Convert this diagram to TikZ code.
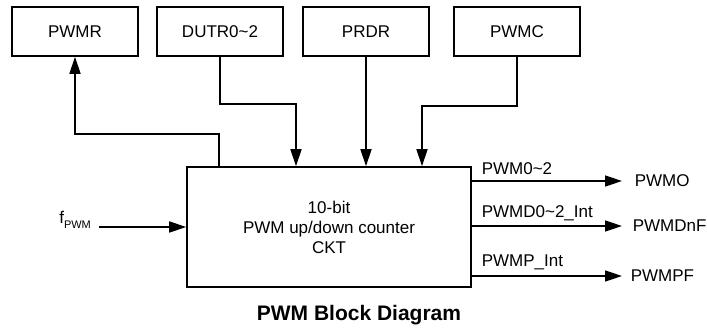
\documentclass[tikz,border=0pt]{standalone}
\usepackage{fontspec}
\setmainfont{Liberation Sans}
\usetikzlibrary{arrows.meta}

\begin{document}
\begin{tikzpicture}[x=1pt,y=-1pt,line width=1.6pt,
  reg/.style={draw,minimum width=126pt,minimum height=49pt,inner sep=0pt,font=\fontsize{17}{20}\selectfont},
  sig/.style={inner sep=0pt,font=\fontsize{17}{20}\selectfont},
  arr/.style={-{Triangle[length=17pt,width=11pt]}}]
\useasboundingbox (0,0) rectangle (707,329);
% registers on top
\node[reg] (pwmr) at (75,31.5) {PWMR};
\node[reg] (dutr) at (220,31.5) {DUTR0\textasciitilde2};
\node[reg] (prdr) at (366,31.5) {PRDR};
\node[reg] (pwmc) at (517,31.5) {PWMC};
% counter block
\node[draw,minimum width=284pt,minimum height=120pt,inner sep=0pt,align=center,font=\fontsize{17}{20}\selectfont] (cnt) at (329,227) {10-bit\\PWM up/down counter\\CKT};
\draw[arr] ([xshift=33pt]cnt.north west) -- ++(0,-32) -| (pwmr.south);
\draw[arr] (dutr.south) -- ++(0,47) -| ([xshift=-33pt]cnt.north);
\draw[arr] (prdr.south) -- (prdr.south |- cnt.north);
\draw[arr] (pwmc.south) -- ++(0,49) -| ([xshift=93pt]cnt.north);
% clock input
\node[sig,anchor=base west] (fpwm) at (58.5,223) {f\raisebox{-5pt}{\fontsize{11}{12}\selectfont PWM}};
\coordinate (fin) at (99,227);
\draw[arr] (fin) -- (fin -| cnt.west);
% outputs
\node[sig,anchor=west] (pwmo) at (634,181) {PWMO};
\node[sig,anchor=west] (pwmdnf) at (632,226) {PWMDnF};
\node[sig,anchor=west] (pwmpf) at (630,276) {PWMPF};
\draw[arr,shorten >=12pt] (cnt.east |- 0,181) -- (pwmo.west |- 0,181);
\draw[arr,shorten >=10pt] (cnt.east |- 0,226) -- (pwmdnf.west |- 0,226);
\draw[arr,shorten >=8pt] (cnt.east |- 0,276) -- (pwmpf.west |- 0,276);
\node[sig,anchor=base west] (l1) at (481,174.5) {PWM0\textasciitilde2};
\node[sig,anchor=base west] (l2) at (481,217.5) {PWMD0\textasciitilde2\_Int};
\node[sig,anchor=base west] (l3) at (481,266.5) {PWMP\_Int};
% caption
\node[anchor=base,font=\fontsize{21}{24}\selectfont\bfseries] (title) at (359,320.5) {PWM Block Diagram};
\end{tikzpicture}
\end{document}
